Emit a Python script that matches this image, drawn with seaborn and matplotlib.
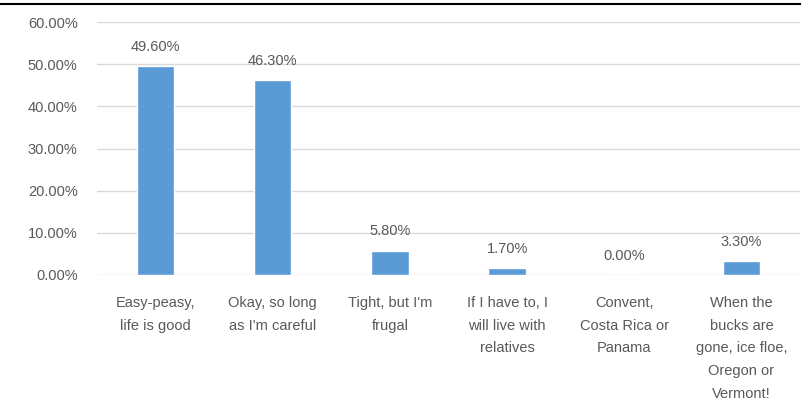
import matplotlib
matplotlib.use("Agg")
import matplotlib.pyplot as plt
from matplotlib.lines import Line2D
from matplotlib.ticker import FuncFormatter
import seaborn as sns
import pandas as pd

categories = [
    "Easy-peasy,\nlife is good",
    "Okay, so long\nas I'm careful",
    "Tight, but I'm\nfrugal",
    "If I have to, I\nwill live with\nrelatives",
    "Convent,\nCosta Rica or\nPanama",
    "When the\nbucks are\ngone, ice floe,\nOregon or\nVermont!",
]
shares = [49.6, 46.3, 5.8, 1.7, 0.0, 3.3]

df = pd.DataFrame({"answer": categories, "share": shares})

sns.set_theme(style="white")
plt.rcParams["font.family"] = ["Liberation Sans", "DejaVu Sans"]

text_color = "#595959"
bar_color = "#5B9BD5"
fs = 10.5

fig = plt.figure(figsize=(8.01, 4.08), dpi=100)
ax = fig.add_axes([97 / 801, 133 / 408, 703 / 801, 253 / 408])

sns.barplot(data=df, x="answer", y="share", color=bar_color, width=0.32,
            saturation=1, ax=ax, zorder=3)

ax.set_ylim(0, 60)
ax.set_yticks(range(0, 61, 10))
ax.yaxis.set_major_formatter(FuncFormatter(lambda v, _: f"{v:.2f}%"))
ax.grid(axis="y", color="#D9D9D9", linewidth=1, zorder=0)
ax.set_xlabel("")
ax.set_ylabel("")
for s in ax.spines.values():
    s.set_visible(False)
ax.tick_params(axis="both", length=0, colors=text_color, labelsize=fs)
ax.tick_params(axis="y", pad=14)
ax.tick_params(axis="x", pad=15)
for lbl in ax.get_xticklabels():
    lbl.set_horizontalalignment("center")
    lbl.set_linespacing(1.8)

for i, v in enumerate(shares):
    ax.text(i, v + 2.9, f"{v:.2f}%", ha="center", va="bottom",
            color=text_color, fontsize=fs)

fig.add_artist(Line2D([0, 1], [(408 - 4) / 408] * 2, color="black",
                      linewidth=1.5, transform=fig.transFigure))

fig.savefig("out.png", dpi=100, facecolor="white")
